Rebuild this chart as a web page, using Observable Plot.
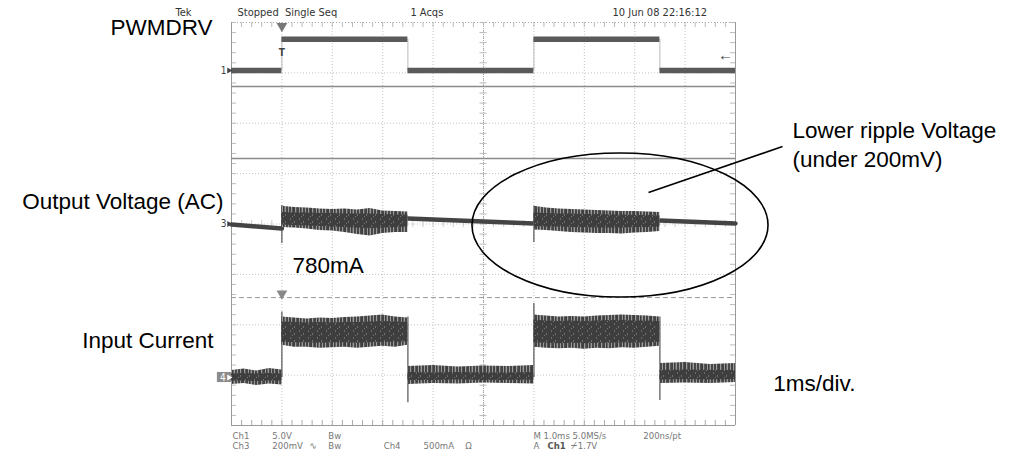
<!DOCTYPE html>
<html><head><meta charset="utf-8">
<script src="https://cdn.jsdelivr.net/npm/d3@7"></script>
<script src="https://cdn.jsdelivr.net/npm/@observablehq/plot@0.6"></script>
<style>
body{margin:0;background:#fff;}
#chart svg{display:block;overflow:visible}
</style></head><body>
<svg width="0" height="0" style="position:absolute">
  <defs>
    <pattern id="noise" patternUnits="userSpaceOnUse" width="17" height="7">
      <rect width="17" height="7" fill="#9a9a9a"/>
      <rect x="0" width="2" height="7" fill="#454545"/>
      <rect x="3" width="1" height="7" fill="#505050"/>
      <rect x="4" width="2" height="7" fill="#3f3f3f"/>
      <rect x="7" width="1" height="7" fill="#5a5a5a"/>
      <rect x="8" width="2" height="7" fill="#444"/>
      <rect x="11" width="1" height="7" fill="#3c3c3c"/>
      <rect x="12" width="1" height="7" fill="#666"/>
      <rect x="14" width="2" height="7" fill="#474747"/>
    </pattern>
    <pattern id="core" patternUnits="userSpaceOnUse" width="9" height="7">
      <rect width="9" height="7" fill="#3e3e3e"/>
      <rect x="2" y="1" width="1" height="2" fill="#6a6a6a"/>
      <rect x="6" y="4" width="1" height="2" fill="#6f6f6f"/>
      <rect x="4" y="6" width="1" height="1" fill="#777"/>
    </pattern>
  </defs>
</svg>
<div id="chart"></div>
<script>
// ===== Data read from the scope capture =====
// time: ms (trigger at 0, 1 ms/div, screen spans -1 .. 9 ms)

// Ch1 PWMDRV (V), 5 V/div
const ch1Start = [-1, 0, 2.5, 5, 7.5];
const ch1End   = [0, 2.5, 5, 7.5, 9];
const ch1Volts = [0, 3.1, 0, 3.1, 0];
const ch1EdgeTime = [0, 2.5, 5, 7.5];

// Ch3 Output Voltage AC (mV), 200 mV/div — quiet stretches
const ch3QuietSeg  = ["A","A","A","C","C","C","C","C","C","E","E","E","E"];
const ch3QuietTime = [-1,-0.5,0, 2.5,3,3.5,4,4.5,5, 7.5,8,8.5,9];
const ch3QuietMv   = [-2,-10,-18, 22,18,14,10,6,2, 14,10,6,2];
// Ch3 ripple bursts (envelopes, mV)
const ch3BurstSeg  = ["B","B","B","B","B","B","B","B","B","B","B","D","D","D","D","D","D","D","D","D","D","D"];
const ch3BurstTime = [0,0.25,0.5,0.75,1,1.25,1.5,1.75,2,2.25,2.5, 5,5.25,5.5,5.75,6,6.25,6.5,6.75,7,7.25,7.5];
const ch3OuterTop  = [70,66,64,60,58,60,56,62,52,50,48, 70,64,60,58,56,54,52,50,50,48,46];
const ch3OuterBot  = [-14,-16,-20,-26,-28,-34,-42,-48,-38,-34,-34, -24,-26,-30,-34,-36,-38,-38,-40,-36,-34,-30];
const ch3CoreTop   = [46,44,44,42,42,40,40,40,38,36,36, 44,42,40,40,38,38,36,36,34,34,32];
const ch3CoreBot   = [-4,-6,-8,-10,-12,-14,-16,-18,-16,-14,-12, -10,-12,-12,-14,-14,-16,-16,-16,-14,-14,-12];
const ch3SpikeTime = [0, 5];
const ch3SpikeHi   = [73, 70];
const ch3SpikeLo   = [-77, -73];

// Ch4 Input Current (mA), 500 mA/div
const ch4Seg      = ["A","A","A","A","A", "B","B","B","B","B","B","B","B","B","B","B",
                     "C","C","C","C","C","C", "D","D","D","D","D","D","D","D","D","D","D", "E","E","E","E"];
const ch4Time     = [-1,-0.75,-0.5,-0.25,0, 0,0.25,0.5,0.75,1,1.25,1.5,1.75,2,2.25,2.5,
                     2.5,3,3.5,4,4.5,5, 5,5.25,5.5,5.75,6,6.25,6.5,6.75,7,7.25,7.5, 7.5,8,8.5,9];
const ch4OuterTop = [70,85,65,90,75, 600,590,580,590,585,595,600,610,620,600,590,
                     110,120,105,115,110,120, 620,610,600,605,600,610,615,620,615,610,600, 140,150,130,140];
const ch4OuterBot = [-70,-60,-80,-65,-75, 320,300,300,290,295,300,290,300,310,300,320,
                     -70,-60,-65,-55,-60,-65, 300,290,285,290,280,290,285,295,290,300,310, -60,-55,-60,-50];
const ch4CoreTop  = [35,40,35,40,35, 550,545,540,545,540,545,545,550,555,550,545,
                     50,45,50,45,45,50, 570,560,555,560,555,560,565,565,560,560,555, 70,75,70,70];
const ch4CoreBot  = [-35,-35,-40,-35,-35, 350,345,345,340,345,345,340,345,350,350,355,
                     -30,-30,-25,-30,-30,-25, 345,340,335,340,335,340,340,345,340,345,350, -25,-20,-25,-20];
const ch4EdgeTime = [0, 2.5, 5, 7.5];
const ch4EdgeHi   = [650, 600, 734, 600];
const ch4EdgeLo   = [0, -250, 0, -228];

// Scope readout texts
const headerText  = ["Tek", "Stopped  Single Seq", "1 Acqs", "10 Jun 08 22:16:12"];
const footerText  = ["Ch1", "5.0V", "Bw", "Ch3", "200mV", "∿", "Bw", "Ch4", "500mA", "Ω",
                     "M 1.0ms 5.0MS/s", "200ns/pt", "A", "Ch1", "⌿", "1.7V"];
const labelText   = ["PWMDRV", "Output Voltage (AC)", "780mA", "Input Current",
                     "Lower ripple Voltage", "(under 200mV)", "1ms/div."];

// ===== Layout / styling (screen divisions) =====
const chan = {
  ch1: {offset: 3.047, perDiv: 5},
  ch3: {offset: 0, perDiv: 200},
  ch4: {offset: -3.047, perDiv: 500}
};
const y1v = v => chan.ch1.offset + v / chan.ch1.perDiv;
const y3v = v => chan.ch3.offset + v / chan.ch3.perDiv;
const y4v = v => chan.ch4.offset + v / chan.ch4.perDiv;

const headerPos = {x: [-2.11, -0.88, 2.55, 6.56], y: 4.135};
const footerPos = {
  x: [-0.98, -0.19, 0.92, -0.98, -0.19, 0.55, 0.92, 2.02, 2.81, 3.64, 4.99, 7.17, 4.99, 5.27, 5.73, 5.87],
  y: [-4.26,-4.26,-4.26,-4.46,-4.46,-4.46,-4.46,-4.46,-4.46,-4.46,-4.26,-4.26,-4.46,-4.46,-4.46,-4.46],
  strong: [false,false,false,false,false,false,false,false,false,false,false,false,false,true,false,false]
};
const labelPos = {
  x: [-1.377, -1.159, 0.21, -1.357, 10.131, 10.131, 9.75],
  y: [3.76, 0.29, -0.963, -2.452, 1.713, 1.122, -3.32],
  anchor: ["end","end","start","end","start","start","start"]
};
const ellipse = {cx: 6.718, cy: -0.03, rx: 2.937, ry: 1.43};
const pointer = {x1: 7.274, y1: 0.625, x2: 9.933, y2: 1.538};

// ===== Build tables =====
const ch1Levels = ch1Start.map((s, i) => ({s, e: ch1End[i], y: y1v(ch1Volts[i])}));
const ch3Quiet = ch3QuietTime.map((t, i) => ({t, seg: ch3QuietSeg[i], y: y3v(ch3QuietMv[i])}));
const ch3Burst = ch3BurstTime.map((t, i) => ({t, seg: ch3BurstSeg[i],
  ot: y3v(ch3OuterTop[i]), ob: y3v(ch3OuterBot[i]), ct: y3v(ch3CoreTop[i]), cb: y3v(ch3CoreBot[i])}));
const ch3Spikes = ch3SpikeTime.map((t, i) => ({t, hi: y3v(ch3SpikeHi[i]), lo: y3v(ch3SpikeLo[i])}));
const ch4 = ch4Time.map((t, i) => ({t, seg: ch4Seg[i],
  ot: y4v(ch4OuterTop[i]), ob: y4v(ch4OuterBot[i]), ct: y4v(ch4CoreTop[i]), cb: y4v(ch4CoreBot[i])}));
const ch4Edges = ch4EdgeTime.map((t, i) => ({t, hi: y4v(ch4EdgeHi[i]), lo: y4v(ch4EdgeLo[i])}));

const headers = headerText.map((text, i) => ({text, x: headerPos.x[i], y: headerPos.y}));
const footers = footerText.map((text, i) => ({text, x: footerPos.x[i], y: footerPos.y[i], strong: footerPos.strong[i]}));
const labels = labelText.map((text, i) => ({text, x: labelPos.x[i], y: labelPos.y[i], a: labelPos.anchor[i]}));

// graticule
const gridX = d3.range(-1, 9.001, 1);
const gridY = d3.range(-4, 4.001, 1);
const minorX = d3.range(-1, 9.001, 0.2);
const minorY = d3.range(-4, 4.001, 0.2);

const scopeFont = "'Liberation Sans Narrow', 'Arial Narrow', 'DejaVu Sans Condensed', sans-serif";
const labelFont = "'Liberation Sans', Arial, Helvetica, sans-serif";
const gridColor = "#c2c2c2";

const labelStyle = {x: "x", y: "y", text: "text", lineAnchor: "bottom", fontSize: 22.5, fill: "#000", fontFamily: labelFont};
const footStyle = {x: "x", y: "y", text: "text", textAnchor: "start", lineAnchor: "bottom", fontFamily: scopeFont};

const chart = Plot.plot({
  width: 1013, height: 454,
  marginLeft: 231, marginRight: 278, marginTop: 22, marginBottom: 29,
  x: {domain: [-1, 9], axis: null},
  y: {domain: [-4, 4], axis: null},
  style: {background: "#fff", overflow: "visible"},
  marks: [
    // graticule
    Plot.ruleX(gridX.slice(1, -1), {stroke: gridColor, strokeDasharray: "1,2"}),
    Plot.ruleY(gridY.slice(1, -1), {stroke: gridColor, strokeDasharray: "1,2"}),
    Plot.ruleY([4], {stroke: "#aaa", strokeDasharray: "1,2"}),
    Plot.ruleX([4], {stroke: "#aaa", strokeDasharray: "1,1"}),
    Plot.ruleY(minorY, {x1: 3.93, x2: 4.07, stroke: "#bbb"}),
    Plot.ruleX(minorX, {y1: -0.07, y2: 0.07, stroke: "#ccc"}),
    Plot.ruleX(minorX, {y1: -4, y2: -3.9, stroke: "#aaa"}),
    Plot.ruleX(minorX, {y1: 4, y2: 3.9, stroke: "#bbb"}),
    Plot.ruleY(minorY, {x1: -1, x2: -0.9, stroke: "#bbb"}),
    Plot.ruleY(minorY, {x1: 9, x2: 8.9, stroke: "#bbb"}),
    Plot.ruleX([-1, 9], {y1: -4, y2: 4, stroke: "#999"}),
    Plot.ruleY([-4], {stroke: "#999"}),
    // solid reference lines and dashed trigger level line
    Plot.ruleY([2.73, 1.30], {stroke: "#8a8a8a", strokeWidth: 1.5}),
    Plot.ruleY([-1.46], {stroke: "#9a9a9a", strokeDasharray: "5,3"}),

    // Ch1 PWMDRV
    Plot.ruleX(ch1EdgeTime, {y1: y1v(0), y2: y1v(3.1), stroke: "#bbb"}),
    Plot.ruleY(ch1Levels, {x1: "s", x2: "e", y: "y", stroke: "#5a5a5a", strokeWidth: 5.5}),

    // Ch3 output voltage
    Plot.ruleX(ch3Spikes, {x: "t", y1: "lo", y2: "hi", stroke: "#555", strokeWidth: 1.2}),
    Plot.line(ch3Quiet, {x: "t", y: "y", z: "seg", stroke: "#444", strokeWidth: 4.5}),
    Plot.areaY(ch3Burst, {x: "t", y1: "ob", y2: "ot", z: "seg", fill: "url(#noise)"}),
    Plot.areaY(ch3Burst, {x: "t", y1: "cb", y2: "ct", z: "seg", fill: "url(#core)"}),

    // Ch4 input current
    Plot.ruleX(ch4Edges, {x: "t", y1: "lo", y2: "hi", stroke: "#555", strokeWidth: 1.2}),
    Plot.areaY(ch4, {x: "t", y1: "ob", y2: "ot", z: "seg", fill: "url(#noise)"}),
    Plot.areaY(ch4, {x: "t", y1: "cb", y2: "ct", z: "seg", fill: "url(#core)"}),

    // markers
    Plot.dot([0], {x: d => d, y: 3.93, symbol: "triangle", r: 4, fill: "#777", rotate: 180}),
    Plot.dot([0], {x: d => d, y: -1.38, symbol: "triangle", r: 4, fill: "#888", rotate: 180}),
    Plot.text(["T"], {x: 0, y: 3.34, text: d => d, fontSize: 10, fontWeight: "bold", fill: "#444", lineAnchor: "bottom", fontFamily: scopeFont}),
    Plot.text(["←"], {x: 8.8, y: 3.36, text: d => d, fontSize: 15, fill: "#444", lineAnchor: "middle", fontFamily: labelFont}),
    Plot.text(["1"], {x: -1.1, y: y1v(0), text: d => d, fontSize: 10, fill: "#444", textAnchor: "end", lineAnchor: "middle", fontFamily: scopeFont}),
    Plot.text(["3"], {x: -1.1, y: y3v(0), text: d => d, fontSize: 10, fill: "#444", textAnchor: "end", lineAnchor: "middle", fontFamily: scopeFont}),
    Plot.dot([y1v(0), y3v(0)], {x: -1.05, y: d => d, symbol: "triangle", r: 2.2, fill: "#444", rotate: 90}),
    Plot.rect([0], {x1: -1.28, x2: -1.0, y1: y4v(0) - 0.1, y2: y4v(0) + 0.1, fill: "#8c8c8c"}),
    Plot.text(["4"], {x: -1.17, y: y4v(0), text: d => d, fontSize: 10, fill: "#fff", lineAnchor: "middle", fontFamily: scopeFont}),
    Plot.dot([y4v(0)], {x: -1.05, y: d => d, symbol: "triangle", r: 2.2, fill: "#fff", rotate: 90}),

    // scope readouts
    Plot.text(headers, {x: "x", y: "y", text: "text", textAnchor: "start", lineAnchor: "bottom", fontSize: 11, fill: "#333", fontFamily: scopeFont}),
    Plot.text(footers.filter(d => !d.strong), {...footStyle, fontSize: 9.5, fill: "#777"}),
    Plot.text(footers.filter(d => d.strong), {...footStyle, fontSize: 9.5, fill: "#555", fontWeight: "bold"}),

    // annotations
    Plot.text(labels.filter(d => d.a === "end"), {...labelStyle, textAnchor: "end"}),
    Plot.text(labels.filter(d => d.a === "start"), {...labelStyle, textAnchor: "start"}),
    Plot.link([pointer], {x1: "x1", y1: "y1", x2: "x2", y2: "y2", stroke: "#000", strokeWidth: 1.6})
  ]
});

document.getElementById("chart").appendChild(chart);

const sx = chart.scale("x"), sy = chart.scale("y");
const svg = d3.select(chart.tagName.toLowerCase() === "svg" ? chart : chart.querySelector("svg"));
svg.append("ellipse")
  .attr("cx", sx.apply(ellipse.cx))
  .attr("cy", sy.apply(ellipse.cy))
  .attr("rx", sx.apply(ellipse.cx + ellipse.rx) - sx.apply(ellipse.cx))
  .attr("ry", sy.apply(ellipse.cy - ellipse.ry) - sy.apply(ellipse.cy))
  .attr("fill", "none").attr("stroke", "#000").attr("stroke-width", 1.6);
</script></body></html>
